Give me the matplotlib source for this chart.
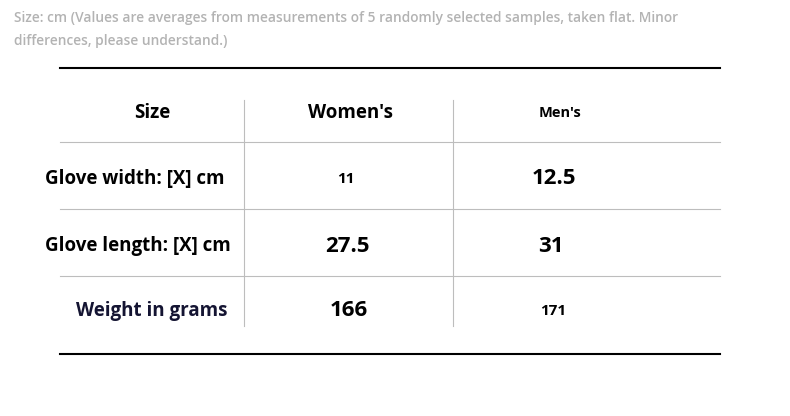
import matplotlib
matplotlib.use("Agg")
import matplotlib.pyplot as plt

title_lines = ["Size: cm (Values are averages from measurements of 5 randomly selected samples, taken flat. Minor",
               "differences, please understand.)"]
columns = ["Size", "Women's", "Men's"]
row_labels = ["Glove width: [X] cm", "Glove length: [X] cm", "Weight in grams"]
womens = ["11", "27.5", "166"]
mens = ["12.5", "31", "171"]
womens_sizes = [11, 16, 16]
mens_sizes = [16, 16, 11]
header_sizes = [13.5, 13.5, 10.5]

plt.rcParams['font.family'] = ['Open Sans', 'DejaVu Sans']
W, H = 790, 416
fig = plt.figure(figsize=(W/100, H/100), dpi=100)
ax = fig.add_axes([0, 0, 1, 1])
ax.set_xlim(0, W); ax.set_ylim(H, 0); ax.axis('off')

ax.text(14, 18, title_lines[0], fontsize=9.9, color='#b3b3b3', weight='semibold', va='center')
ax.text(14, 41, title_lines[1], fontsize=9.9, color='#b3b3b3', weight='semibold', va='center')

ax.plot([60, 720], [68, 68], color='black', lw=1.5)
ax.plot([60, 720], [354, 354], color='black', lw=1.5)
for y in [142, 209, 276]:
    ax.plot([60, 720], [y, y], color='#bdbdbd', lw=0.8)
for x in [244, 453]:
    ax.plot([x, x], [100, 326], color='#bdbdbd', lw=0.8)

col_x = [152, 351, 560]
for c, x, s in zip(columns, col_x, header_sizes):
    ax.text(x, 113, c, fontsize=s, weight='bold', ha='center', va='center', color='black')

row_y = [179, 246, 311]
label_x = [135, 138, 152]
label_colors = ['black', 'black', '#141432']
for lab, y, x, col in zip(row_labels, row_y, label_x, label_colors):
    ax.text(x, y, lab, fontsize=13.5, weight='bold', ha='center', va='center', color=col)
for v, y, s, x in zip(womens, row_y, womens_sizes, [346, 347, 349]):
    ax.text(x, y, v, fontsize=s, weight='bold', ha='center', va='center', color='black')
for v, y, s, x in zip(mens, row_y, mens_sizes, [554, 551, 553]):
    ax.text(x, y, v, fontsize=s, weight='bold', ha='center', va='center', color='black')

fig.savefig('out.png', dpi=100, facecolor='white')
